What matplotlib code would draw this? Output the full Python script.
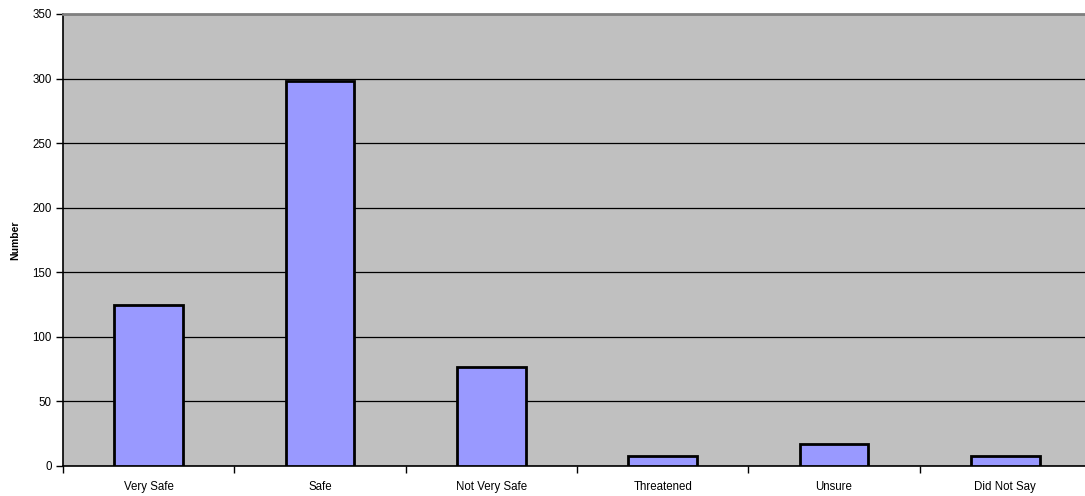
import matplotlib
matplotlib.use('Agg')
from matplotlib import pyplot as plt
import numpy as np

plt.rcParams['font.family'] = ['Liberation Sans', 'DejaVu Sans']

# Survey answers
categories = ['Very Safe', 'Safe', 'Not Very Safe', 'Threatened', 'Unsure',
              'Did Not Say']
counts = [125, 298, 77, 8, 17, 8]
y_ticks = [0, 50, 100, 150, 200, 250, 300, 350]

fig = plt.figure(figsize=(10.85, 4.96), dpi=100)
# plot area runs slightly past the right edge of the image
ax = fig.add_axes([63 / 1085, 1 - 466 / 496, 1028 / 1085, 452 / 496])
ax.set_facecolor('#c0c0c0')

x = np.arange(len(categories))
ax.bar(x, counts, width=0.4, color='#9999ff', edgecolor='black',
       linewidth=2, zorder=3)

ax.set_xlim(-0.5, len(categories) - 0.5)
ax.set_ylim(0, 350)
ax.set_yticks(y_ticks)
ax.yaxis.grid(True, color='black', linewidth=0.9, zorder=1)

# category labels centred under bars, ticks between categories
ax.set_xticks(x)
ax.set_xticklabels(categories, fontsize=8.3)
ax.tick_params(axis='x', length=0, pad=11)
ax.set_xticks(np.arange(len(categories) + 1) - 0.5, minor=True)
ax.tick_params(axis='x', which='minor', length=5, width=1, color='black')
ax.tick_params(axis='y', labelsize=8.3, length=5, width=1, color='black',
               pad=3)

for side in ['left', 'bottom']:
  ax.spines[side].set_color('black')
  ax.spines[side].set_linewidth(1.2)
ax.spines['top'].set_color('#808080')
ax.spines['top'].set_linewidth(2)
ax.spines['right'].set_visible(False)

ax.set_ylabel('Number', fontsize=7.5, fontweight='bold', labelpad=9)

plt.savefig('out.png', dpi=100)
